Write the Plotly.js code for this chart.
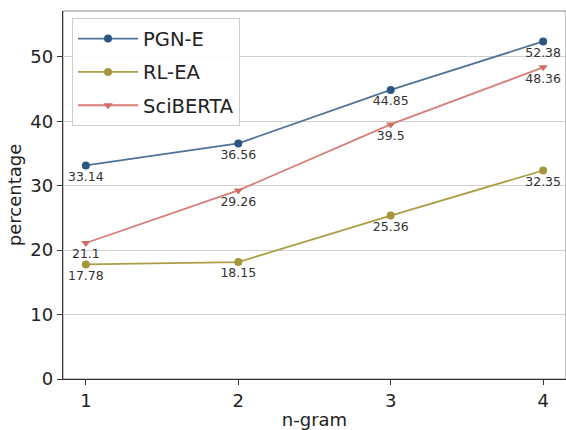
<!DOCTYPE html>
<html>
<head>
<meta charset="utf-8">
<script src="https://cdn.plot.ly/plotly-3.0.1.min.js"></script>
<style>html,body{margin:0;padding:0;background:#fff;}#chart{width:566px;height:430px;}</style>
</head>
<body>
<div id="chart"></div>
<script>
const ngrams = [1, 2, 3, 4];
const pgnE = [33.14, 36.56, 44.85, 52.38];
const rlEA = [17.78, 18.15, 25.36, 32.35];
const sciBERTA = [21.1, 29.26, 39.5, 48.36];
const seriesNames = ["PGN-E", "RL-EA", "SciBERTA"];

const labelFont = {family: "DejaVu Sans", size: 12.5, color: "#333"};
function mk(name, y, lineColor, markerColor, symbol, msize) {
  return {
    x: ngrams, y: y, name: name, legendgroup: name, type: "scatter", mode: "lines+markers+text",
    text: y.map(v => String(v)), textposition: "bottom center", textfont: labelFont,
    line: {color: lineColor, width: 1.8},
    marker: {color: markerColor, size: msize, symbol: symbol},
    cliponaxis: false
  };
}
const data = [
  mk(seriesNames[0], pgnE, "#4f7399", "#2d5582", "circle", 8),
  mk(seriesNames[1], rlEA, "#ab9e45", "#a3963c", "circle", 8),
  mk(seriesNames[2], sciBERTA, "#d87c76", "#d46a65", "triangle-down", 8)
];
const layout = {
  width: 566, height: 430,
  margin: {l: 63, r: 0, t: 11, b: 51},
  paper_bgcolor: "#fff", plot_bgcolor: "#fff",
  font: {family: "DejaVu Sans", color: "#222"},
  showlegend: true,
  legend: {x: 0.018, y: 0.98, xanchor: "left", yanchor: "top",
    bgcolor: "rgba(255,255,255,0.9)", bordercolor: "#ccc", borderwidth: 1,
    font: {family: "DejaVu Sans", size: 19.5, color: "#222"}, itemwidth: 60,
    tracegroupgap: 5},
  xaxis: {range: [0.85, 4.15], tickvals: ngrams, ticktext: ngrams.map(String),
    showgrid: false, zeroline: false, showline: true, linecolor: "#333", linewidth: 1.2,
    ticks: "outside", ticklen: 5, tickcolor: "#333",
    tickfont: {family: "DejaVu Sans", size: 18, color: "#222"},
    title: {text: "n-gram", font: {family: "DejaVu Sans", size: 18, color: "#222"}, standoff: 8}},
  yaxis: {range: [0, 57.1], tickvals: [0, 10, 20, 30, 40, 50],
    showgrid: true, gridcolor: "#d0d0d0", gridwidth: 1, zeroline: false,
    showline: true, linecolor: "#333", linewidth: 1.2,
    ticks: "outside", ticklen: 5, tickcolor: "#333",
    tickfont: {family: "DejaVu Sans", size: 18, color: "#222"},
    title: {text: "percentage", font: {family: "DejaVu Sans", size: 18, color: "#222"}, standoff: 4}},
  shapes: [{type: "rect", xref: "paper", yref: "paper", x0: 0, x1: 1, y0: 0, y1: 1,
    line: {color: "#888", width: 1}, layer: "below"}]
};
Plotly.newPlot("chart", data, layout, {displayModeBar: false, staticPlot: true});
</script>
</body>
</html>
